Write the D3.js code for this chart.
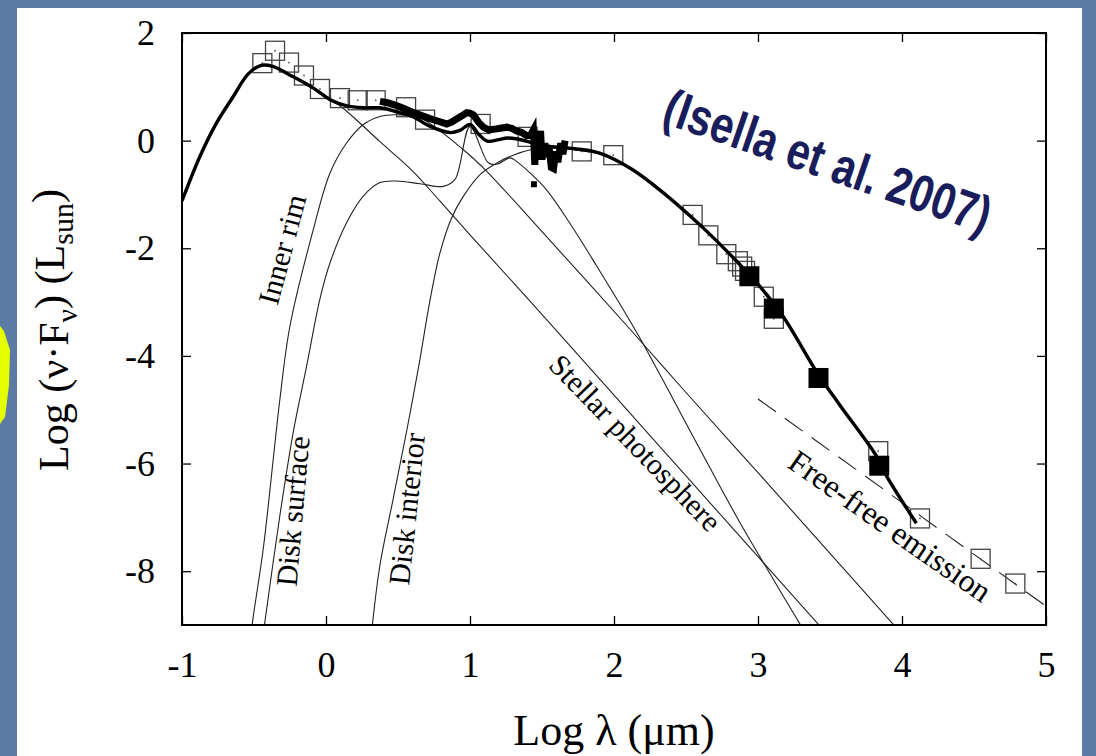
<!DOCTYPE html>
<html lang="en">
<head>
    <meta charset="UTF-8">
    <script src="https://d3js.org/d3.v7.min.js"></script>
    <title>SED</title>
    <style>
        body {
            margin: 0;
            background: #5b7ba6;
        }
        svg text {
            font-family: "Liberation Serif", "Times New Roman", serif;
        }
    </style>
</head>

<body>
<div id="my_dataviz"></div>
<script>

    // model curves (log lambda, log nuFnu)
    var totalX = [-1.0, -0.875, -0.76, -0.644, -0.54, -0.45, -0.37, -0.23, -0.09, 0.03, 0.14, 0.26, 0.375, 0.5, 0.6, 0.72, 0.86, 0.93, 1.0, 1.06, 1.12, 1.2, 1.26, 1.33, 1.39, 1.53, 1.69, 1.9, 2.13, 2.37, 2.55, 2.65, 2.83, 3.01, 3.17, 3.42, 3.57, 3.82, 3.89, 4.1];
    var totalY = [-1.12, -0.29, 0.33, 0.82, 1.24, 1.40, 1.38, 1.19, 0.98, 0.76, 0.65, 0.61, 0.61, 0.53, 0.45, 0.27, 0.15, 0.19, 0.30, 0.12, -0.01, 0.02, 0.05, 0.03, -0.01, -0.10, -0.14, -0.23, -0.54, -1.03, -1.45, -1.70, -2.18, -2.70, -3.25, -4.35, -4.92, -5.85, -6.22, -7.11];

    var starX = [-1.0, -0.875, -0.76, -0.644, -0.54, -0.45, -0.37, -0.23, -0.09, 0.03, 0.1, 0.25, 0.375, 0.6, 0.79, 1.0, 1.49, 2.0, 2.5, 3.0, 3.43];
    var starY = [-1.14, -0.31, 0.31, 0.80, 1.22, 1.39, 1.37, 1.18, 0.96, 0.74, 0.64, 0.29, -0.02, -0.56, -1.12, -1.75, -3.2, -4.73, -6.23, -7.73, -9.02];

    var rimX = [-0.515, -0.505, -0.435, -0.366, -0.32, -0.25, -0.088, 0.028, 0.144, 0.259, 0.375, 0.49, 0.653, 0.954, 1.116, 1.486, 2.11, 2.5, 3.0, 3.5, 3.95];
    var rimY = [-9.05, -8.84, -7.57, -5.91, -4.80, -3.44, -1.65, -0.60, -0.04, 0.30, 0.45, 0.48, 0.42, -0.17, -0.57, -1.65, -3.50, -4.68, -6.17, -7.67, -9.02];

    var surfX = [-0.43, -0.32, -0.227, -0.134, -0.042, 0.028, 0.144, 0.259, 0.375, 0.49, 0.653, 0.815, 0.896, 1.0, 1.127, 1.185, 1.278, 1.32, 1.417, 1.53, 1.69, 1.88, 2.157, 2.41, 2.64, 2.875, 3.106, 3.3];
    var surfY = [-9.05, -6.96, -5.41, -4.18, -2.94, -2.27, -1.52, -1.03, -0.78, -0.75, -0.80, -0.85, -0.72, 0.26, -0.41, -0.44, -0.32, -0.38, -0.60, -0.91, -1.52, -2.33, -3.56, -4.80, -5.95, -7.10, -8.15, -9.02];

    var diskX = [0.32, 0.375, 0.467, 0.56, 0.65, 0.72, 0.79, 0.87, 0.95, 1.07, 1.19, 1.3, 1.42, 1.53, 1.69, 1.9, 2.13, 2.37, 2.55, 2.65, 2.83, 3.01, 3.17, 3.42, 3.57, 3.82];
    var diskY = [-9.05, -7.88, -6.65, -5.40, -4.10, -3.00, -2.10, -1.45, -1.05, -0.63, -0.41, -0.27, -0.17, -0.13, -0.16, -0.25, -0.55, -1.03, -1.45, -1.70, -2.18, -2.70, -3.25, -4.35, -4.92, -5.85];

    var freeX = [3.0, 5.0];
    var freeY = [-4.80, -8.65];

    // IRS spectrum
    var specX = [0.375, 0.42, 0.49, 0.55, 0.607, 0.66, 0.722, 0.78, 0.838, 0.87, 0.907, 0.95, 0.977, 1.0, 1.023, 1.06, 1.093, 1.13, 1.162, 1.21, 1.255, 1.29, 1.324, 1.36, 1.394, 1.42, 1.44, 1.45, 1.46, 1.475, 1.49, 1.50, 1.52, 1.535, 1.55, 1.565, 1.58, 1.595, 1.61, 1.63, 1.645, 1.66];
    var specY = [0.73, 0.71, 0.65, 0.59, 0.52, 0.47, 0.41, 0.36, 0.31, 0.34, 0.40, 0.47, 0.52, 0.51, 0.48, 0.34, 0.25, 0.20, 0.21, 0.23, 0.25, 0.23, 0.18, 0.15, 0.09, 0.10, 0.20, -0.45, 0.05, -0.25, 0.18, -0.35, -0.05, -0.30, -0.15, -0.50, -0.52, -0.20, -0.40, -0.05, -0.25, 0.00];
    var specDotX = [1.444];
    var specDotY = [-0.81];

    // photometry
    var openX = [-0.442, -0.354, -0.257, -0.153, -0.042, 0.097, 0.22, 0.345, 0.556, 0.688, 1.074, 1.40, 1.776, 1.995, 2.546, 2.655, 2.78, 2.86, 2.89, 2.91, 3.04, 3.11, 3.835, 4.125, 4.546, 4.787];
    var openY = [1.44, 1.67, 1.45, 1.21, 0.96, 0.79, 0.75, 0.75, 0.62, 0.39, 0.31, 0.07, -0.20, -0.27, -1.38, -1.76, -2.11, -2.24, -2.34, -2.42, -2.90, -3.31, -5.77, -7.02, -7.77, -8.23];
    var fillX = [2.94, 3.11, 3.42, 3.842];
    var fillY = [-2.52, -3.12, -4.41, -6.04];

    var xTicks = [-1, 0, 1, 2, 3, 4, 5];
    var yTicks = [2, 0, -2, -4, -6, -8];

    function zip(xs, ys) {
        return xs.map(function(v, i) { return {x: v, y: ys[i]}; });
    }

    var W = 1096, H = 756;
    var svg = d3.select("#my_dataviz")
        .append("svg")
        .attr("width", W)
        .attr("height", H)
        .style("display", "block");

    // blue frame, yellow blob, white slide
    svg.append("rect").attr("width", W).attr("height", H).attr("fill", "#5b7ba6");
    svg.append("path")
        .attr("d", "M0,326 L4,331 L10,350 L9,385 L5,417 L0,424 Z")
        .attr("fill", "#e4ff00");
    svg.append("rect")
        .attr("x", 17).attr("y", 8)
        .attr("width", 1065).attr("height", H)
        .attr("fill", "#ffffff");

    var x = d3.scaleLinear().domain([-1, 5]).range([182, 1046]);
    var y = d3.scaleLinear().domain([-9, 2]).range([625, 33]);

    svg.append("clipPath").attr("id", "plot")
        .append("rect")
        .attr("x", 182).attr("y", 33)
        .attr("width", 864).attr("height", 592);

    var line = d3.line()
        .x(function(d) { return x(d.x); })
        .y(function(d) { return y(d.y); })
        .curve(d3.curveCatmullRom.alpha(0.5));
    var straight = d3.line()
        .x(function(d) { return x(d.x); })
        .y(function(d) { return y(d.y); });

    var g = svg.append("g").attr("clip-path", "url(#plot)");

    // thin component curves
    [[starX, starY], [rimX, rimY], [surfX, surfY], [diskX, diskY]].forEach(function(c) {
        g.append("path")
            .datum(zip(c[0], c[1]))
            .attr("fill", "none")
            .attr("stroke", "#222")
            .attr("stroke-width", 1.1)
            .attr("d", line);
    });

    g.append("path")
        .datum(zip(freeX, freeY))
        .attr("fill", "none")
        .attr("stroke", "#222")
        .attr("stroke-width", 1.1)
        .attr("stroke-dasharray", "22,11")
        .attr("d", straight);

    // open squares
    var sq = 19;
    g.selectAll(".open")
        .data(zip(openX, openY))
        .enter().append("rect")
        .attr("x", function(d) { return x(d.x) - sq / 2; })
        .attr("y", function(d) { return y(d.y) - sq / 2; })
        .attr("width", sq).attr("height", sq)
        .attr("fill", "none")
        .attr("stroke", "#444")
        .attr("stroke-width", 1.3);
    g.selectAll(".dot")
        .data(zip(openX, openY))
        .enter().append("rect")
        .attr("x", function(d) { return x(d.x) - 0.8; })
        .attr("y", function(d) { return y(d.y) - 0.8; })
        .attr("width", 1.6).attr("height", 1.6)
        .attr("fill", "#555");

    // total model
    g.append("path")
        .datum(zip(totalX, totalY))
        .attr("fill", "none")
        .attr("stroke", "#000")
        .attr("stroke-width", 3.4)
        .attr("d", line);

    // spectrum
    g.append("path")
        .datum(zip(specX, specY))
        .attr("fill", "none")
        .attr("stroke", "#000")
        .attr("stroke-width", 7)
        .attr("d", straight);
    g.selectAll(".sdot")
        .data(zip(specDotX, specDotY))
        .enter().append("rect")
        .attr("x", function(d) { return x(d.x) - 3; })
        .attr("y", function(d) { return y(d.y) - 3; })
        .attr("width", 6).attr("height", 6)
        .attr("fill", "#000");

    // filled squares
    g.selectAll(".fill")
        .data(zip(fillX, fillY))
        .enter().append("rect")
        .attr("x", function(d) { return x(d.x) - 10; })
        .attr("y", function(d) { return y(d.y) - 10; })
        .attr("width", 20).attr("height", 20)
        .attr("fill", "#000");

    // axes, ticks on all four sides pointing in
    var fs = "36px";
    var fmt = function(d) { return String(d); };
    var ax = svg.append("g").attr("transform", "translate(0,625)")
        .call(d3.axisBottom(x).tickValues(xTicks).tickSizeInner(-9).tickSizeOuter(0).tickPadding(26).tickFormat(fmt));
    ax.selectAll("text").style("font-size", fs).attr("fill", "#000");
    svg.append("g").attr("transform", "translate(0,33)")
        .call(d3.axisTop(x).tickValues(xTicks).tickSizeInner(-9).tickSizeOuter(0).tickFormat(""));
    var ay = svg.append("g").attr("transform", "translate(182,0)")
        .call(d3.axisLeft(y).tickValues(yTicks).tickSizeInner(-9).tickSizeOuter(0).tickPadding(27).tickFormat(fmt));
    ay.selectAll("text").style("font-size", fs).attr("fill", "#000");
    svg.append("g").attr("transform", "translate(1046,0)")
        .call(d3.axisRight(y).tickValues(yTicks).tickSizeInner(-9).tickSizeOuter(0).tickFormat(""));
    svg.selectAll(".domain").remove();
    svg.selectAll(".tick line").attr("stroke", "#000").attr("stroke-width", 1.3);

    svg.append("rect")
        .attr("x", 182).attr("y", 33)
        .attr("width", 864).attr("height", 592)
        .attr("fill", "none")
        .attr("stroke", "#000")
        .attr("stroke-width", 2);

    // axis titles
    svg.append("text")
        .attr("x", 614).attr("y", 745)
        .attr("text-anchor", "middle")
        .style("font-size", "44px")
        .text("Log λ (μm)");

    var yl = svg.append("text")
        .attr("transform", "translate(68,330) rotate(-90)")
        .attr("text-anchor", "middle")
        .style("font-size", "42px");
    yl.append("tspan").text("Log (ν·F");
    yl.append("tspan").attr("dy", "0.3em").style("font-size", "30px").text("ν");
    yl.append("tspan").attr("dy", "-0.3em").text(") (L");
    yl.append("tspan").attr("dy", "0.3em").style("font-size", "30px").text("sun");
    yl.append("tspan").attr("dy", "-0.3em").text(")");

    // curve labels
    function label(t, px, py, a, size) {
        svg.append("text")
            .attr("transform", "translate(" + px + "," + py + ") rotate(" + a + ")")
            .attr("text-anchor", "middle")
            .style("font-size", size)
            .text(t);
    }
    label("Inner rim", 292, 252, -75, "30px");
    label("Disk surface", 303, 512, -85, "30px");
    label("Disk interior", 417, 510, -84, "30px");
    label("Stellar photosphere", 628, 450, 46, "30px");
    label("Free-free emission", 884, 535, 35, "32px");

    // citation, narrow bold face squeezed horizontally
    svg.append("text")
        .attr("transform", "translate(822,178) rotate(19) scale(0.8,1)")
        .attr("text-anchor", "middle")
        .style("font-family", "'Liberation Sans', Arial, sans-serif")
        .style("font-weight", "bold")
        .style("font-size", "52px")
        .attr("fill", "#191d5c")
        .text("(Isella et al. 2007)");

</script>
</body>
</html>
